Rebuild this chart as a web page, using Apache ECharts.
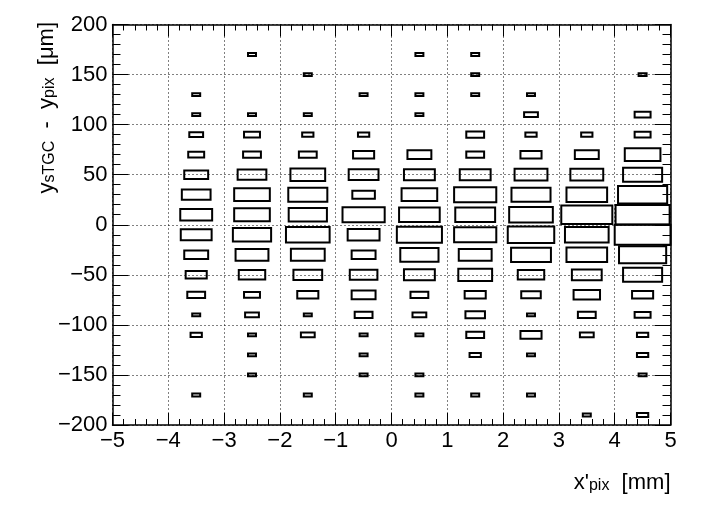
<!DOCTYPE html>
<html>
<head>
<meta charset="utf-8">
<script src="https://cdn.jsdelivr.net/npm/echarts@6/dist/echarts.min.js"></script>
<style>
html,body{margin:0;padding:0;background:#fff;}
#chart{width:706px;height:507px;}
</style>
</head>
<body>
<div id="chart"></div>
<script>
// Bin centres
var xCenters = [-3.5, -2.5, -1.5, -0.5, 0.5, 1.5, 2.5, 3.5, 4.5];
var yCenters = [190,170,150,130,110,90,70,50,30,10,-10,-30,-50,-70,-90,-110,-130,-150,-170,-190];
var binWidthX = 1;
var binWidthY = 20;
// Bin contents per x column (ordered as yCenters)
var colM3p5 = [0,0,0,1,1,3,4,9,13,16,15,9,7,5,1,2,0,0,1,0];
var colM2p5 = [0,1,0,0,1,4,5,13,20,20,23,17,11,4,3,1,1,1,0,0];
var colM1p5 = [0,0,1,0,1,2,5,19,24,23,30,18,13,7,1,3,0,0,1,0];
var colM0p5 = [0,0,0,1,0,2,7,14,8,28,16,9,12,9,5,1,1,1,0,0];
var colP0p5 = [0,1,0,1,1,0,9,15,20,26,32,23,15,5,3,1,0,1,1,0];
var colP1p5 = [0,1,1,1,0,5,5,15,28,25,28,17,18,7,6,5,2,0,1,0];
var colP2p5 = [0,0,0,1,3,2,7,17,24,30,34,25,11,6,1,7,1,0,1,0];
var colP3p5 = [0,0,0,0,0,2,9,17,26,41,30,26,14,11,5,3,0,0,0,1];
var colP4p5 = [0,0,1,0,4,4,20,24,38,46,49,35,24,7,4,2,2,1,0,2];
var columns = [colM3p5,colM2p5,colM1p5,colM0p5,colP0p5,colP1p5,colP2p5,colP3p5,colP4p5];
var xMin = -5, xMax = 5, xStep = 1;
var yMin = -200, yMax = 200, yStep = 50;

var data = [];
var maxCount = 0;
columns.forEach(function(col, i){
  col.forEach(function(c, j){
    if (c > 0) { data.push([xCenters[i], yCenters[j], c]); if (c > maxCount) maxCount = c; }
  });
});

function fmt(v){ return String(v).replace('-', '\u2212'); }

var FONT = '"Liberation Sans", Arial, Helvetica, sans-serif';

function renderItem(params, api){
  var x = api.value(0), y = api.value(1), c = api.value(2);
  var ctr = api.coord([x, y]);
  var sz = api.size([binWidthX, binWidthY]);
  var r = Math.sqrt(c / maxCount);
  var w = sz[0] * r, h = sz[1] * r;
  return {
    type: 'rect',
    shape: {x: ctr[0] - w/2, y: ctr[1] - h/2, width: w, height: h},
    style: {fill: 'none', stroke: '#000', lineWidth: 2}
  };
}

var axisLineStyle = {show: true, onZero: false, lineStyle: {color: '#000', width: 1.5}};
var tickStyle = {color: '#000', width: 1};
var richStyles = {
  m: {fontSize: 22, fontFamily: FONT, lineHeight: 26, verticalAlign: 'bottom', fill: '#000', color: '#000'},
  s: {fontSize: 16, fontFamily: FONT, lineHeight: 10, verticalAlign: 'bottom', fill: '#000', color: '#000'}
};
var chart = echarts.init(document.getElementById('chart'), null, {renderer: 'canvas'});
chart.setOption({
  animation: false,
  backgroundColor: '#fff',
  grid: {left: 112.5, right: 35.5, top: 24.5, bottom: 82, containLabel: false},
  xAxis: [
    {type: 'value', min: xMin, max: xMax, interval: xStep, position: 'bottom',
     axisLine: axisLineStyle,
     axisTick: {show: true, inside: true, length: 12, lineStyle: tickStyle},
     minorTick: {show: true, splitNumber: 5, length: 6, lineStyle: tickStyle},
     splitLine: {show: true, lineStyle: {color: '#000', width: 1, type: [1, 3]}},
     axisLabel: {show: true, fontSize: 22, fontFamily: FONT, color: '#000', margin: 5, formatter: fmt}},
    {type: 'value', min: xMin, max: xMax, interval: xStep, position: 'top',
     axisLine: axisLineStyle,
     axisTick: {show: true, inside: true, length: 12, lineStyle: tickStyle},
     minorTick: {show: true, splitNumber: 5, length: 6, lineStyle: tickStyle},
     splitLine: {show: false}, axisLabel: {show: false}}
  ],
  yAxis: [
    {type: 'value', min: yMin, max: yMax, interval: yStep, position: 'left',
     axisLine: axisLineStyle,
     axisTick: {show: true, inside: true, length: 16, lineStyle: tickStyle},
     minorTick: {show: true, splitNumber: 5, length: 8, lineStyle: tickStyle},
     splitLine: {show: true, lineStyle: {color: '#000', width: 1, type: [1, 3]}},
     axisLabel: {show: true, fontSize: 22, fontFamily: FONT, color: '#000', margin: 5, formatter: fmt}},
    {type: 'value', min: yMin, max: yMax, interval: yStep, position: 'right',
     axisLine: axisLineStyle,
     axisTick: {show: true, inside: true, length: 16, lineStyle: tickStyle},
     minorTick: {show: true, splitNumber: 5, length: 8, lineStyle: tickStyle},
     splitLine: {show: false}, axisLabel: {show: false}}
  ],
  series: [{
    type: 'custom', coordinateSystem: 'cartesian2d', xAxisIndex: 0, yAxisIndex: 0,
    renderItem: renderItem, encode: {x: 0, y: 1}, data: data, clip: false, z: 3
  }],
  graphic: [
    {type: 'text', x: 670.5, y: 481, z: 10,
     style: {text: '{m|x\'}{s|pix}{m|  [mm]}', align: 'right', verticalAlign: 'middle', rich: richStyles}},
    {type: 'text', x: 45, y: 22, rotation: Math.PI/2, z: 10,
     style: {text: '{m|y}{s|sTGC}{m|  -  y}{s|pix}{m|  [\u03bcm]}', align: 'right', verticalAlign: 'middle', rich: richStyles}}
  ]
});
</script>
</body>
</html>
